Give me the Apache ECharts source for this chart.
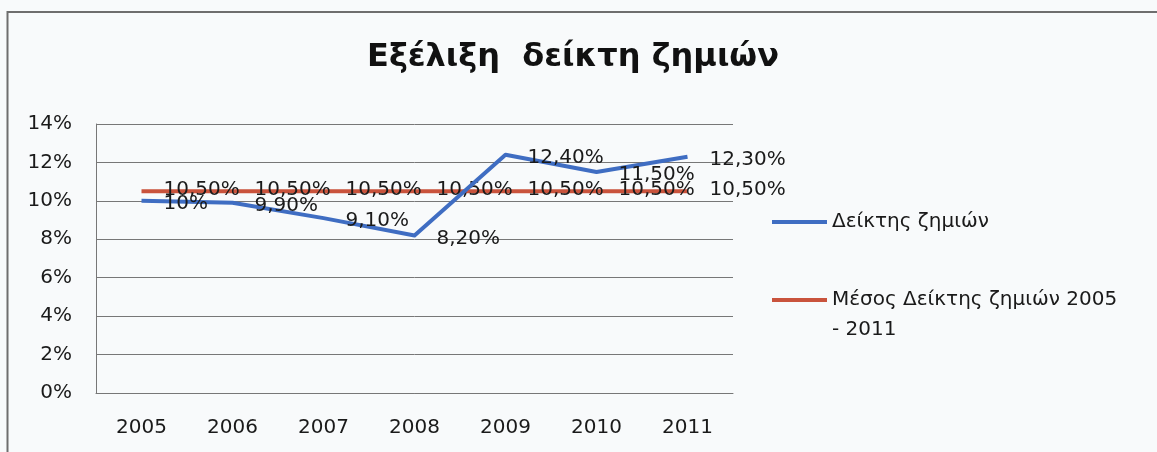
<!DOCTYPE html>
<html>
<head>
<meta charset="utf-8">
<script src="https://cdn.jsdelivr.net/npm/echarts@6/dist/echarts.min.js"></script>
<style>
  html, body { margin: 0; padding: 0; background: #f8fafb; }
  #chart { width: 1157px; height: 452px; }
</style>
</head>
<body>
<div id="chart"></div>
<script>
// Loss ratio per year and its 2005-2011 average (percent)
const years = ['2005', '2006', '2007', '2008', '2009', '2010', '2011'];
const lossRatio = [10, 9.9, 9.1, 8.2, 12.4, 11.5, 12.3];
const avgRatio = [10.5, 10.5, 10.5, 10.5, 10.5, 10.5, 10.5];
const yTicks = { min: 0, max: 14, step: 2 };
const titleText = 'Εξέλιξη  δείκτη ζημιών';
const seriesNames = ['Δείκτης ζημιών', 'Μέσος Δείκτης ζημιών 2005\n- 2011'];

const FONT = 'DejaVu Sans';
const INK = '#1a1a1a';

// Greek-style percent: decimal comma, two decimals unless whole
function pct(v) {
  return Number.isInteger(v) ? v + '%' : v.toFixed(2).replace('.', ',') + '%';
}

const chart = echarts.init(document.getElementById('chart'));

const labelStyle = {
  show: true,
  position: 'right',
  distance: 22,
  offset: [0, 3],
  color: INK,
  fontFamily: FONT,
  fontSize: 20,
  formatter: p => pct(p.value)
};

chart.setOption({
  backgroundColor: '#f8fafb',
  animation: false,
  title: {
    text: titleText,
    left: 568,
    top: 37,
    textAlign: 'center',
    textStyle: { fontFamily: FONT, fontWeight: 'bold', fontSize: 32, color: '#111' }
  },
  graphic: [
    // chart frame
    {
      type: 'rect',
      shape: { x: 7.5, y: 12, width: 1200, height: 500 },
      style: { fill: 'none', stroke: '#6e6e6e', lineWidth: 2 },
      silent: true
    }
  ],
  legend: {
    orient: 'vertical',
    left: 772,
    top: 207,
    padding: 0,
    itemWidth: 55,
    itemHeight: 4,
    itemGap: 18,
    icon: 'rect',
    data: [
      { name: seriesNames[0] },
      { name: seriesNames[1] }
    ],
    formatter: name => name.indexOf('\n') >= 0 ? ' \n' + name : name,
    textStyle: { fontFamily: FONT, fontSize: 20, color: INK, lineHeight: 30 }
  },
  grid: { left: 96, right: 424, top: 124, bottom: 59, containLabel: false },
  xAxis: {
    type: 'category',
    data: years,
    boundaryGap: true,
    axisLine: { show: true, lineStyle: { color: '#777777', width: 1 } },
    axisTick: { show: false },
    axisLabel: { color: INK, fontFamily: FONT, fontSize: 20, margin: 25 }
  },
  yAxis: {
    type: 'value',
    min: yTicks.min,
    max: yTicks.max,
    interval: yTicks.step,
    axisLine: { show: true, lineStyle: { color: '#777777', width: 1 } },
    axisTick: { show: false },
    axisLabel: { color: INK, fontFamily: FONT, fontSize: 20, margin: 24, formatter: '{value}%' },
    splitLine: { show: true, lineStyle: { color: '#777777', width: 1 } }
  },
  series: [
    {
      name: seriesNames[0],
      type: 'line',
      data: lossRatio,
      symbol: 'circle',
      symbolSize: 0,
      itemStyle: { color: '#3f6dc2' },
      lineStyle: { color: '#3f6dc2', width: 4, join: 'round' },
      label: labelStyle,
      z: 3
    },
    {
      name: seriesNames[1],
      type: 'line',
      data: avgRatio,
      symbol: 'circle',
      symbolSize: 0,
      itemStyle: { color: '#c9533c' },
      lineStyle: { color: '#c9533c', width: 4 },
      label: Object.assign({}, labelStyle, { offset: [0, -1] }),
      z: 2
    }
  ]
});
</script>
</body>
</html>
